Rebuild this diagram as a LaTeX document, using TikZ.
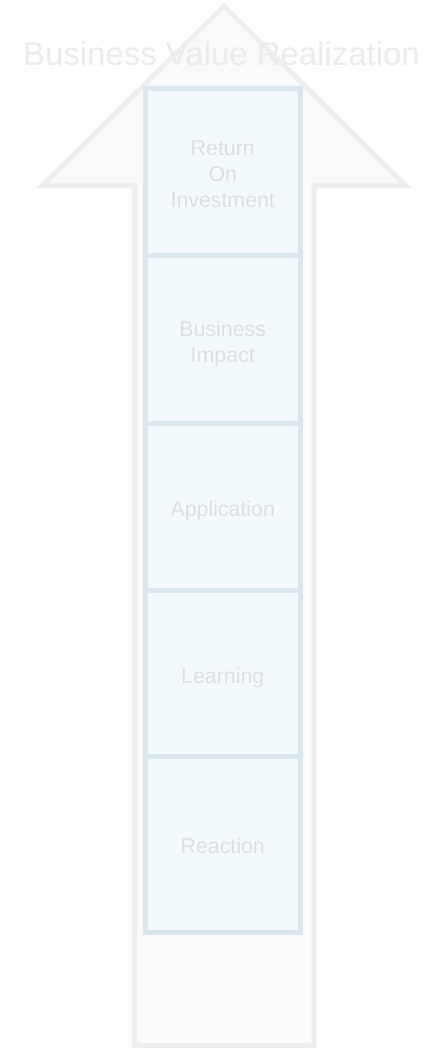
\documentclass[tikz,border=0pt]{standalone}
\usepackage{fontspec}
\setmainfont{Liberation Sans}
\definecolor{arrowline}{HTML}{EEEEEE}
\definecolor{arrowfill}{HTML}{FAFAFA}
\definecolor{boxline}{HTML}{D9E7EF}
\definecolor{boxfill}{HTML}{F3FAFE}
\definecolor{titletext}{HTML}{EBEBEB}
\definecolor{boxtext}{HTML}{DDDDDD}
\tikzset{every picture/.style={line width=0.75pt}}
\tikzset{
  levelbox/.style={draw=boxline, fill=boxfill, line width=3.75pt},
  levellabel/.style={text=boxtext, align=center, inner sep=0.75pt, font=\fontsize{16}{19.5}\selectfont},
}

\begin{document}
\begin{tikzpicture}[x=0.75pt,y=0.75pt,yscale=-1,xscale=1]
  \useasboundingbox (0,0) rectangle (436,1048);

  % Big arrow
  \draw [draw=arrowline, fill=arrowfill, line width=3.75pt]  (224,6) -- (406,186) -- (314,186) -- (314,1045.5) -- (134.5,1045.5) -- (134.5,186) -- (42,186) -- cycle ;

  % Level boxes
  \draw [levelbox]  (145.5,89) rectangle (300,256) ;
  \draw [levelbox]  (145.5,256) rectangle (300,423) ;
  \draw [levelbox]  (145.5,423) rectangle (300,590) ;
  \draw [levelbox]  (145.5,590) rectangle (300,756.5) ;
  \draw [levelbox]  (145.5,756.5) rectangle (300,932) ;

  % Text Node
  \node (title) at (221.5,65.5) [anchor=base, inner sep=0pt, text=titletext, font=\fontsize{24.7}{29}\selectfont] {Business Value Realization};
  % Text Node
  \node (roi) at (222.75,174) [levellabel] {Return\\On\\Investment};
  % Text Node
  \node (impact) at (222.75,344) [levellabel] {Business\\Impact};
  % Text Node
  \node (application) at (222.75,511) [levellabel] {Application};
  % Text Node
  \node (learning) at (222.75,678) [levellabel] {Learning};
  % Text Node
  \node (reaction) at (222.75,846) [levellabel] {Reaction};

\end{tikzpicture}
\end{document}
